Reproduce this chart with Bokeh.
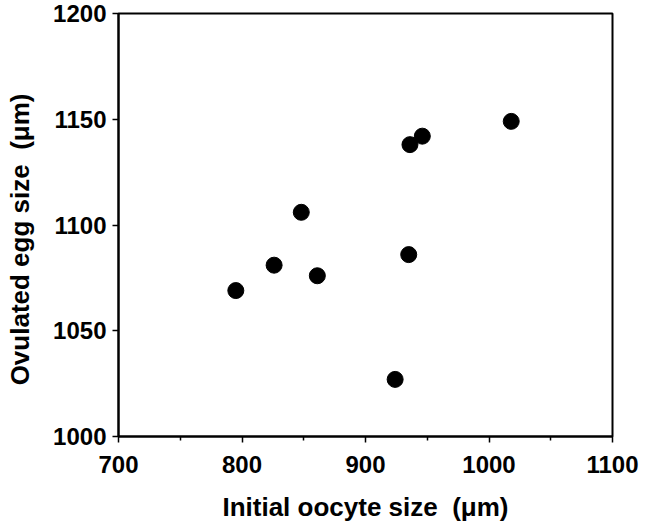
from bokeh.plotting import figure
from bokeh.models import Range1d, FixedTicker, ColumnDataSource
from bokeh.embed import file_html
from bokeh.resources import INLINE

initial_oocyte = [795, 826, 848, 861, 924, 935, 936, 946, 1018]
ovulated_egg = [1069, 1081, 1106, 1076, 1027, 1086, 1138, 1142, 1149]

x_ticks = [700, 800, 900, 1000, 1100]
x_minor = [750, 850, 950, 1050]
y_ticks = [1000, 1050, 1100, 1150, 1200]

src = ColumnDataSource(dict(x=initial_oocyte, y=ovulated_egg))

p = figure(width=651, height=530, output_backend="svg", toolbar_location=None,
           x_range=Range1d(700, 1100), y_range=Range1d(1000, 1200),
           min_border_left=118, min_border_right=39, min_border_top=13, min_border_bottom=94)

p.scatter("x", "y", source=src, size=16, color="black")

p.grid.visible = False
p.background_fill_color = "white"
p.border_fill_color = "white"
p.outline_line_color = "black"
p.outline_line_width = 2

FONT = "Liberation Sans"

p.xaxis.ticker = FixedTicker(ticks=x_ticks, minor_ticks=x_minor)
p.yaxis.ticker = FixedTicker(ticks=y_ticks)

for ax in (p.xaxis, p.yaxis):
    ax.axis_line_width = 2
    ax.axis_line_color = "black"
    ax.major_tick_line_width = 1.5
    ax.major_tick_in = 0
    ax.major_tick_out = 6
    ax.minor_tick_in = 0
    ax.minor_tick_out = 4
    ax.minor_tick_line_width = 1.5
    ax.major_label_text_font = FONT
    ax.major_label_text_font_style = "bold"
    ax.major_label_text_font_size = "24px"
    ax.major_label_text_color = "black"
    ax.axis_label_text_font = FONT
    ax.axis_label_text_font_style = "bold"
    ax.axis_label_text_font_size = "26px"
    ax.axis_label_text_color = "black"

p.yaxis.minor_tick_line_color = None
p.xaxis.major_label_standoff = 13
p.yaxis.major_label_standoff = 6
p.xaxis.axis_label = "Initial oocyte size\u00a0\u00a0(μm)"
p.yaxis.axis_label = "Ovulated egg size\u00a0\u00a0(μm)\u00a0\u00a0\u00a0\u00a0"
p.xaxis.axis_label_standoff = 16
p.yaxis.axis_label_standoff = 15

open("out.html", "w").write(file_html(p, INLINE))
